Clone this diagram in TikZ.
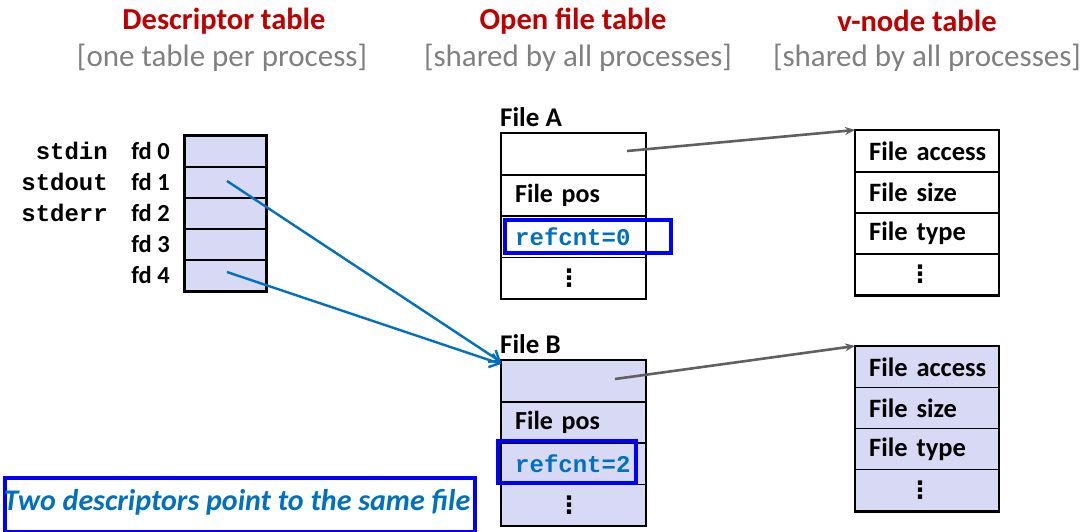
\documentclass[tikz,border=0pt]{standalone}
\usepackage{fontspec}
\setmainfont{Carlito}
\setmonofont{Liberation Mono}
\newfontfamily\dv{DejaVu Sans}
\usetikzlibrary{arrows.meta}
\definecolor{lav}{RGB}{216,217,245}
\definecolor{ttl}{RGB}{192,0,0}
\definecolor{sub}{RGB}{128,128,128}
\definecolor{arrblue}{RGB}{0,112,192}
\definecolor{hiblue}{RGB}{0,0,255}
\definecolor{arrgray}{RGB}{96,96,96}
\tikzset{
  title/.style={font=\fontsize{30.5}{32}\selectfont\bfseries, text=ttl},
  subtitle/.style={font=\fontsize{31}{33}\selectfont, text=sub},
  dcell/.style={draw=black, line width=1.6pt, fill=lav, minimum width=81pt, minimum height=31pt, anchor=north west, inner sep=0pt},
  fdlab/.style={font=\fontsize{24.5}{26}\selectfont\bfseries, anchor=east, inner sep=0pt},
  stdlab/.style={font=\fontsize{24}{26}\selectfont\ttfamily\bfseries, anchor=east, inner sep=0pt},
  cell/.style={draw=black, line width=1.4pt, minimum height=41.2pt, text width=144pt, inner xsep=0pt, inner ysep=0pt, align=left, anchor=north west, font=\fontsize{26}{28}\selectfont\bfseries, execute at begin node={\hspace*{13.5pt}}},
  vcell/.style={cell, font=\fontsize{26.5}{28}\selectfont\bfseries, text width=143pt},
  outer/.style={draw=black, line width=2pt},
  hibox/.style={draw=hiblue, line width=3.5pt},
  filelab/.style={font=\fontsize{27}{29}\selectfont\bfseries, anchor=south west, inner sep=0pt},
  grayarr/.style={draw=arrgray, line width=2.6pt, -{Stealth[length=10pt,width=8pt]}},
  bluearr/.style={draw=arrblue, line width=2.4pt, -{Straight Barb[length=9pt,width=14pt,line width=2.4pt]}}
}
\newcommand{\vdts}[1]{\hspace*{#1}{\dv\fontsize{24}{26}\selectfont\bfseries ⋮}}
\newcommand{\refc}[1]{\textcolor{arrblue}{\ttfamily\fontsize{24}{26}\selectfont #1}}
\begin{document}
\begin{tikzpicture}[x=1pt,y=-1pt]
\useasboundingbox (0,0) rectangle (1089,532);
% titles
\node[title] (t1) at (224,21) {Descriptor table};
\node[title] (t2) at (573,21) {Open file table};
\node[title] (t3) at (917,21) {v-node table};
\node[subtitle] (s1) at (222,58) {[one table per process]};
\node[subtitle] (s2) at (578,58) {[shared by all processes]};
\node[subtitle] (s3) at (927,58) {[shared by all processes]};
% descriptor table
\foreach \i in {0,...,4} {
  \node[dcell] (d\i) at (184,{135+31*\i}) {};
  \node[fdlab] (fd\i) at (170,{151+31*\i}) {fd \i};
}
\node[stdlab] (sin) at (108,151) {stdin};
\node[stdlab] (sout) at (108,182) {stdout};
\node[stdlab] (serr) at (108,213) {stderr};
\draw[line width=2pt] (d0.north west) rectangle (d4.south east);
% File A
\node[filelab] (fA) at (500,127) {File A};
\node[cell] (a1) at (501,133) {};
\node[cell] (a2) at (501,174.2) {File pos};
\node[cell] (a3) at (501,215.4) {\refc{refcnt=0}};
\node[cell] (a4) at (501,256.6) {\vdts{42pt}};
\draw[outer] (a1.north west) rectangle (a4.south east);
\node[hibox, minimum width=166pt, minimum height=33pt, anchor=north west] (ha) at (503,218) {};
% File B
\node[filelab] (fB) at (500,354) {File B};
\node[cell, fill=lav] (b1) at (501,360) {};
\node[cell, fill=lav] (b2) at (501,401.2) {File pos};
\node[cell, fill=lav] (b3) at (501,442.4) {\refc{refcnt=2}};
\node[cell, fill=lav] (b4) at (501,483.6) {\vdts{42pt}};
\draw[outer] (b1.north west) rectangle (b4.south east);
\node[hibox, minimum width=138pt, minimum height=42pt, anchor=north west] (hb) at (496,439) {};
% v-node A
\node[vcell] (v1) at (855,130) {File access};
\node[vcell] (v2) at (855,171) {File size};
\node[vcell] (v3) at (855,212) {File type};
\node[vcell] (v4) at (855,253) {\vdts{39pt}};
\draw[outer] (v1.north west) rectangle (v4.south east);
% v-node B
\node[vcell, fill=lav] (w1) at (855,346) {File access};
\node[vcell, fill=lav] (w2) at (855,387) {File size};
\node[vcell, fill=lav] (w3) at (855,428) {File type};
\node[vcell, fill=lav] (w4) at (855,469) {\vdts{39pt}};
\draw[outer] (w1.north west) rectangle (w4.south east);
% arrows
\coordinate (pa) at (627,151);
\coordinate (pb) at (615,379);
\draw[grayarr] (pa) -- (v1.north west);
\draw[grayarr] (pb) -- (w1.north west);
\coordinate (p1) at (227,181);
\coordinate (p4) at (227,272);
\draw[bluearr] (p1) -- ([yshift=-2pt]b1.north west);
\draw[bluearr] (p4) -- ([yshift=-4pt]b1.north west);
% bottom note
\node[draw=hiblue, line width=3.5pt, minimum width=470pt, minimum height=54pt, anchor=north west, inner sep=0pt] (note) at (3,476) {};
\node[font=\fontsize{30}{32}\selectfont\bfseries\itshape, text=arrblue] (notetxt) at (237,502) {Two descriptors point to the same file};
\end{tikzpicture}
\end{document}
